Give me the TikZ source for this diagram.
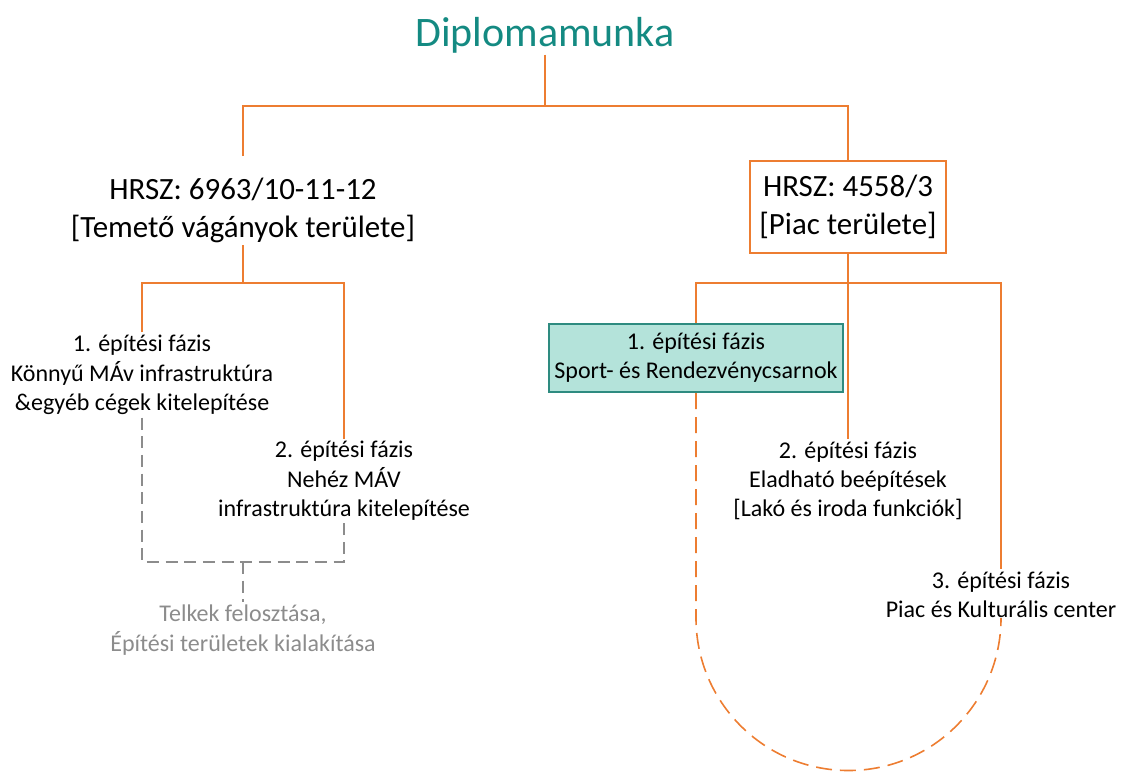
\documentclass[tikz,border=0pt]{standalone}
\usepackage{xcolor}
\usepackage{fontspec}
\setmainfont{Carlito}
\usepackage{tikz}
\usetikzlibrary{positioning}
\definecolor{lineorange}{RGB}{237,125,49}
\definecolor{titleteal}{RGB}{20,138,130}
\definecolor{boxteal}{RGB}{180,227,218}
\definecolor{boxedge}{RGB}{46,139,128}
\definecolor{softgray}{RGB}{140,140,140}

\begin{document}
\begin{tikzpicture}[x=0.75pt, y=-0.75pt,
  conn/.style={draw=lineorange, line width=1.2pt},
  odash/.style={draw=lineorange, line width=1.2pt, dash pattern=on 12pt off 6pt},
  gdash/.style={draw=softgray, line width=0.9pt, dash pattern=on 9pt off 5pt},
  phase/.style={align=center, font=\fontsize{18}{22}\selectfont, inner sep=2pt},
  plot/.style={align=center, font=\fontsize{23.2}{28.5}\selectfont, inner sep=2pt}]
\useasboundingbox (0,0) rectangle (1121,772);

\node[font=\fontsize{31.5}{36}\selectfont, text=titleteal, inner sep=1pt] (title) at (545,35) {Diplomamunka};
\node[plot] (hrszL) at (243,210) {HRSZ: 6963/10-11-12\\{}[Temető vágányok területe]};
\node[plot, draw=lineorange, line width=2pt, minimum width=147pt, minimum height=69pt] (hrszR) at (848,207) {HRSZ: 4558/3\\{}[Piac területe]};

\node[phase] (p1L) at (142,375) {1. építési fázis\\Könnyű MÁv infrastruktúra\\\&egyéb cégek kitelepítése};
\node[phase] (p2L) at (344,481) {2. építési fázis\\Nehéz MÁV\\infrastruktúra kitelepítése};
\node[phase, text=softgray] (grayL) at (243,630) {Telkek felosztása,\\Építési területek kialakítása};

\node[phase, draw=boxedge, fill=boxteal, line width=1.5pt, minimum width=221pt, minimum height=51pt] (p1R) at (696,358) {1. építési fázis\\Sport- és Rendezvénycsarnok};
\node[phase] (p2R) at (848,481) {2. építési fázis\\Eladható beépítések\\{}[Lakó és iroda funkciók]};
\node[phase] (p3R) at (1001,595) {3. építési fázis\\Piac és Kulturális center};

\coordinate (jTop) at (545,106);
\coordinate (jL) at (243,283);
\coordinate (jR) at (848,283);
\coordinate (jG) at (243,562);
\coordinate (jArc) at (696,618);

\draw[conn] (title.south) -- (jTop);
\draw[conn] ([yshift=14pt]hrszL.north) |- (jTop) -| (hrszR.north);
\draw[conn] (hrszL.south) -- (jL);
\draw[conn] (p1L.north) |- (jL) -| (p2L.north);
\draw[conn] (hrszR.south) -- (jR);
\draw[conn] (p1R.north) |- (jR) -| (p3R.north);
\draw[conn] (jR) -- (p2R.north);

\draw[gdash] (p1L.south) |- (jG) -| (p2L.south);
\draw[gdash] (jG) -- (grayL.north);

\draw[odash] (p1R.south) -- (jArc) arc[start angle=180, end angle=0, radius=152.5] -- (p3R.south);
\end{tikzpicture}
\end{document}
